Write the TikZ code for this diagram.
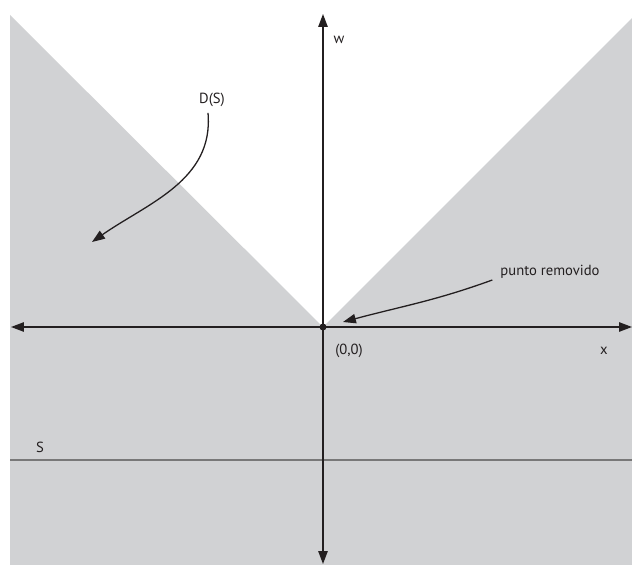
\documentclass[tikz,border=0pt]{standalone}
\usepackage{fontspec}
\setmainfont{PT Sans}
\usepackage{tikz}
\usetikzlibrary{arrows.meta, positioning}
\definecolor{conegray}{RGB}{209,210,212}
\definecolor{axisblack}{RGB}{35,31,32}
\definecolor{linegray}{RGB}{120,120,120}

\begin{document}
\begin{tikzpicture}[x=0.03cm, y=-0.03cm, every node/.style={font=\fontsize{12.5}{14}\selectfont, text=axisblack}]
            \useasboundingbox (0,0) rectangle (632,565);
            \fill[conegray] (10,15) -- (323,327) -- (632,18) -- (632,565) -- (10,565) -- cycle;
            \coordinate (o) at (323,327);
            \coordinate (wtop) at (323,14);
            \coordinate (wbot) at (323,564);
            \coordinate (xleft) at (11,327);
            \coordinate (xright) at (632,327);
            \coordinate (sleft) at (10,460);
            \coordinate (sright) at (632,460);
            \draw[linegray, line width=1.6pt] (sleft) -- (sright);
            \draw[{Triangle[length=11pt,width=8pt]}-{Triangle[length=11pt,width=8pt]}, axisblack, line width=1.2pt] (xleft) -- (xright);
            \draw[{Triangle[length=11pt,width=8pt]}-{Triangle[length=11pt,width=8pt]}, axisblack, line width=1.2pt] (wtop) -- (wbot);
            \node[circle, fill=axisblack, inner sep=0pt, minimum size=6pt] (origin) at (o) {};
            \node (w) at (339,40) {w};
            \node (x) at (604,351) {x};
            \node (zero) at (349,351) {(0,0)};
            \node (s) at (40,447) {S};
            \node (ds) at (212,100) {D(S)};
            \node (pr) at (550,272) {punto removido};
            \coordinate (dstip) at (92,242);
            \coordinate (prtip) at (343,322);
            \draw[-{Triangle[length=11pt,width=8pt]}, axisblack, line width=1.1pt] (ds.south) ++(-4,2) to[out=-85, in=35] (dstip);
            \draw[-{Triangle[length=11pt,width=8pt]}, axisblack, line width=1.1pt] (pr.west) ++(-4,8) to[out=200, in=15] (prtip);
        \end{tikzpicture}
\end{document}
